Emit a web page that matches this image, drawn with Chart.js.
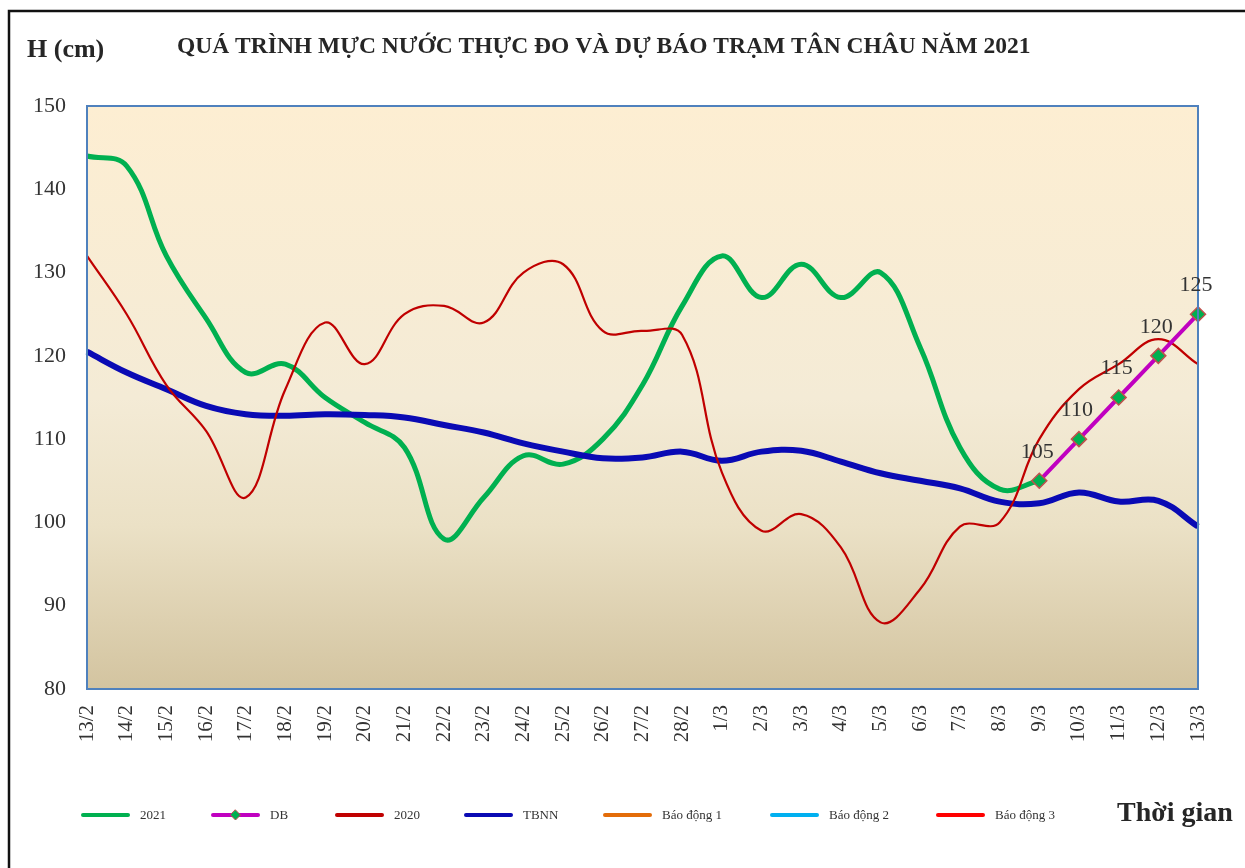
<!DOCTYPE html>
<html>
<head>
<meta charset="utf-8">
<script src="https://cdn.jsdelivr.net/npm/chart.js@4/dist/chart.umd.min.js"></script>
<style>
  html, body { margin: 0; padding: 0; background: #fff; }
  canvas { display: block; }
</style>
</head>
<body>
<canvas id="chart" width="1245" height="868"></canvas>
<script>
// Ngày (trục hoành)
const labels = ['13/2','14/2','15/2','16/2','17/2','18/2','19/2','20/2','21/2','22/2','23/2','24/2','25/2','26/2','27/2','28/2',
                '1/3','2/3','3/3','4/3','5/3','6/3','7/3','8/3','9/3','10/3','11/3','12/3','13/3'];

// Mực nước thực đo 2021 (cm)
const h2021 = [144, 142.8, 132, 124.5, 118, 119, 115, 112, 109, 98, 103, 108, 107, 110, 116.5, 126,
               132, 127, 131, 127, 130, 121, 109, 104, 105, null, null, null, null];

// Dự báo
const hDB = [null, null, null, null, null, null, null, null, null, null, null, null, null, null, null, null,
             null, null, null, null, null, null, null, null, 105, 110, 115, 120, 125];

// Cùng kỳ 2020
const h2020 = [132, 125, 116.5, 111, 103, 116, 124, 119, 125, 126, 124, 130, 131, 123, 123, 122.5,
               106, 99, 101, 97, 88, 92, 99.5, 100, 110, 116, 119, 122, 119];

// Trung bình nhiều năm
const hTBNN = [120.5, 118, 116, 114, 113, 112.8, 113, 112.9, 112.6, 111.7, 110.8, 109.5, 108.5, 107.7, 107.8, 108.5,
               107.4, 108.5, 108.6, 107.3, 105.9, 105, 104.1, 102.5, 102.3, 103.6, 102.5, 102.6, 99.5];

// Mức báo động (ngoài khung trục)
const bd1 = [];
const bd2 = [];
const bd3 = [];

const yTicks = [80, 90, 100, 110, 120, 130, 140, 150];

const serif = '"Liberation Serif", "Times New Roman", serif';

// Nền, khung, tiêu đề, chú thích
const decor = {
    id: 'decor',
    beforeDraw(chart) {
        const ctx = chart.ctx;
        const a = chart.chartArea;
        ctx.save();
        ctx.fillStyle = '#ffffff';
        ctx.fillRect(0, 0, chart.width, chart.height);

        // khung ngoài
        ctx.strokeStyle = '#111111';
        ctx.lineWidth = 2.5;
        ctx.beginPath();
        ctx.moveTo(9, chart.height);
        ctx.lineTo(9, 11);
        ctx.lineTo(chart.width, 11);
        ctx.stroke();

        // nền vùng vẽ
        const g = ctx.createLinearGradient(0, a.top, 0, a.bottom);
        g.addColorStop(0, '#fdeed2');
        g.addColorStop(0.5, '#f4ebd6');
        g.addColorStop(0.72, '#ebe1c6');
        g.addColorStop(1, '#d3c4a0');
        ctx.fillStyle = g;
        ctx.fillRect(a.left, a.top, a.right - a.left, a.bottom - a.top);
        ctx.restore();
    },
    afterDatasetsDraw(chart) {
        const ctx = chart.ctx;
        const a = chart.chartArea;
        ctx.save();
        ctx.strokeStyle = '#4f81bd';
        ctx.lineWidth = 2;
        ctx.strokeRect(a.left, a.top, a.right - a.left, a.bottom - a.top);

        // nhãn số liệu dự báo
        const meta = chart.getDatasetMeta(1);
        ctx.fillStyle = '#333333';
        ctx.font = '22px ' + serif;
        ctx.textAlign = 'center';
        ctx.textBaseline = 'middle';
        meta.data.forEach((pt, i) => {
            if (hDB[i] == null) return;
            ctx.fillText(String(hDB[i]), pt.x - 2, pt.y - 29);
        });
        ctx.restore();
    },
    afterDraw(chart) {
        const ctx = chart.ctx;
        ctx.save();
        ctx.fillStyle = '#262626';
        ctx.textBaseline = 'middle';
        ctx.textAlign = 'left';
        ctx.font = 'bold 26px ' + serif;
        ctx.fillText('H (cm)', 27, 50);
        ctx.font = 'bold 23.5px ' + serif;
        ctx.fillText('QUÁ TRÌNH MỰC NƯỚC THỰC ĐO VÀ DỰ BÁO TRẠM TÂN CHÂU NĂM 2021', 177, 47);
        ctx.font = 'bold 28px ' + serif;
        ctx.fillText('Thời gian', 1117, 814);

        // chú thích
        const xs = [83, 213, 337, 466, 605, 772, 938];
        const y = 815;
        chart.data.datasets.forEach((ds, i) => {
            const x = xs[i];
            ctx.strokeStyle = ds.borderColor;
            ctx.lineWidth = 4;
            ctx.lineCap = 'round';
            ctx.beginPath();
            ctx.moveTo(x, y);
            ctx.lineTo(x + 45, y);
            ctx.stroke();
            if (i === 1) {
                ctx.fillStyle = '#00b050';
                ctx.strokeStyle = '#c0504d';
                ctx.lineWidth = 1;
                ctx.beginPath();
                ctx.moveTo(x + 22.5, y - 5);
                ctx.lineTo(x + 27.5, y);
                ctx.lineTo(x + 22.5, y + 5);
                ctx.lineTo(x + 17.5, y);
                ctx.closePath();
                ctx.fill();
                ctx.stroke();
            }
            ctx.fillStyle = '#333333';
            ctx.font = '13px ' + serif;
            ctx.fillText(ds.label, x + 57, y + 1);
        });
        ctx.restore();
    }
};

const ctx = document.getElementById('chart').getContext('2d');

new Chart(ctx, {
    type: 'line',
    data: {
        labels: labels,
        datasets: [
            {
                label: '2021',
                data: h2021,
                borderColor: '#00b050',
                borderWidth: 5,
                pointRadius: 0,
                tension: 0.4,
                order: 3
            },
            {
                label: 'DB',
                data: hDB,
                borderColor: '#c000c0',
                borderWidth: 4,
                pointStyle: 'rectRot',
                pointRadius: 7.5,
                pointBackgroundColor: '#00b050',
                pointBorderColor: '#c0504d',
                pointBorderWidth: 1.5,
                tension: 0,
                order: 0
            },
            {
                label: '2020',
                data: h2020,
                borderColor: '#c00000',
                borderWidth: 2.2,
                pointRadius: 0,
                tension: 0.4,
                order: 1
            },
            {
                label: 'TBNN',
                data: hTBNN,
                borderColor: '#0a0ab4',
                borderWidth: 6,
                pointRadius: 0,
                tension: 0.4,
                order: 2
            },
            { label: 'Báo động 1', data: bd1, borderColor: '#e36c09', pointRadius: 0, order: 4 },
            { label: 'Báo động 2', data: bd2, borderColor: '#00b0f0', pointRadius: 0, order: 5 },
            { label: 'Báo động 3', data: bd3, borderColor: '#ff0000', pointRadius: 0, order: 6 }
        ]
    },
    options: {
        responsive: false,
        animation: false,
        layout: {
            padding: { left: 0, top: 106, right: 47, bottom: 0 }
        },
        plugins: {
            legend: { display: false },
            title: { display: false },
            tooltip: { enabled: false }
        },
        scales: {
            x: {
                offset: false,
                grid: { display: false, drawTicks: false },
                border: { display: false },
                ticks: {
                    autoSkip: false,
                    minRotation: 90,
                    maxRotation: 90,
                    padding: 16,
                    color: '#333333',
                    font: { family: serif, size: 21 }
                },
                afterFit: scale => { scale.height = 179; }
            },
            y: {
                min: 80,
                max: 150,
                grid: { display: false, drawTicks: false },
                border: { display: false },
                afterBuildTicks: scale => { scale.ticks = yTicks.map(v => ({ value: v })); },
                ticks: {
                    padding: 21,
                    color: '#333333',
                    font: { family: serif, size: 22 }
                },
                afterFit: scale => { scale.width = 87; }
            }
        }
    },
    plugins: [decor]
});
</script>
</body>
</html>
